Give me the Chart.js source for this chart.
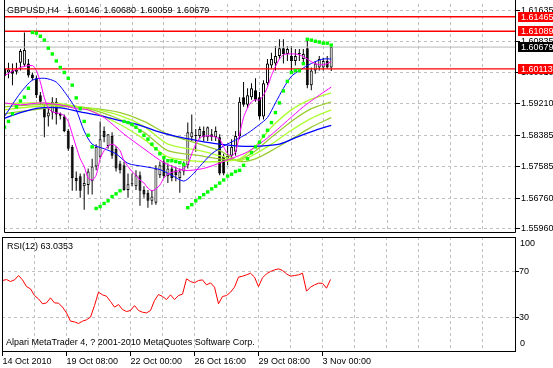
<!DOCTYPE html>
<html>
<head>
<meta charset="utf-8">
<title>GBPUSD,H4</title>
<script src="https://cdn.jsdelivr.net/npm/chart.js@4.4.1/dist/chart.umd.min.js"></script>
<style>
  html, body { margin: 0; padding: 0; background: #fff; }
  #wrap { position: relative; width: 553px; height: 368px; overflow: hidden; }
  #wrap canvas { position: absolute; left: 0; }
  .txt { position: absolute; font: 9px "Liberation Sans", Arial, sans-serif; line-height: 11px; white-space: nowrap; color: #000; }
</style>
</head>
<body>
<div id="wrap">
  <canvas id="priceCanvas" width="553" height="237" style="top:0"></canvas>
  <canvas id="rsiCanvas" width="553" height="131" style="top:237px"></canvas>
  <div class="txt" id="title" style="left:7px;top:5px;word-spacing:1.5px"></div>
  <div class="txt" id="rsiTitle" style="left:7px;top:241px"></div>
  <div class="txt" style="left:6px;top:337px">Alpari MetaTrader 4, ? 2001-2010 MetaQuotes Software Corp.</div>
</div>
<script>
// H4 candles, 14 Oct 2010 .. 3 Nov 2010 (one value per bar)
const openP = [1.6012,1.6002,1.6007,1.6004,1.6027,1.6022,1.6025,1.5997,1.5987,1.5943,
  1.5913,1.5888,1.5898,1.5926,1.5895,1.5888,1.5850,1.5809,1.5728,1.5733,
  1.5707,1.5710,1.5720,1.5758,1.5783,1.5850,1.5811,1.5837,1.5804,1.5766,
  1.5761,1.5697,1.5712,1.5707,1.5735,1.5697,1.5690,1.5669,1.5664,1.5735,
  1.5771,1.5733,1.5753,1.5748,1.5728,1.5745,1.5761,1.5834,1.5837,1.5837,
  1.5850,1.5834,1.5842,1.5834,1.5834,1.5783,1.5778,1.5786,1.5796,1.5837,
  1.5938,1.5918,1.5938,1.5956,1.5938,1.5888,1.5974,1.6020,1.6025,1.6045,
  1.6065,1.6050,1.6045,1.6032,1.6050,1.6037,1.6065,1.5969,1.6007,1.6015,
  1.6015,1.6032,1.60146];
const highP = [1.6027,1.6027,1.6025,1.6027,1.6063,1.6106,1.6037,1.6002,1.5994,1.5951,
  1.5918,1.5910,1.5938,1.5936,1.5898,1.5893,1.5855,1.5814,1.5745,1.5740,
  1.5740,1.5753,1.5778,1.5816,1.5875,1.5862,1.5842,1.5847,1.5811,1.5773,
  1.5771,1.5740,1.5740,1.5748,1.5745,1.5707,1.5697,1.5697,1.5761,1.5771,
  1.5778,1.5766,1.5761,1.5758,1.5753,1.5771,1.5872,1.5893,1.5855,1.5862,
  1.5862,1.5862,1.5855,1.5862,1.5842,1.5791,1.5811,1.5829,1.5850,1.5938,
  1.5977,1.5961,1.5974,1.5987,1.5951,1.5982,1.6037,1.6053,1.6071,1.6088,
  1.6088,1.6071,1.6071,1.6063,1.6063,1.6063,1.6088,1.6015,1.6032,1.6045,
  1.6040,1.6045,1.60680];
const lowP = [1.5971,1.5987,1.5969,1.5997,1.6007,1.6017,1.5989,1.5982,1.5936,1.5918,
  1.5834,1.5862,1.5880,1.5867,1.5880,1.5847,1.5799,1.5695,1.5695,1.5677,
  1.5646,1.5685,1.5685,1.5748,1.5778,1.5821,1.5804,1.5778,1.5745,1.5740,
  1.5695,1.5677,1.5707,1.5697,1.5656,1.5677,1.5651,1.5659,1.5659,1.5728,
  1.5728,1.5715,1.5720,1.5720,1.5690,1.5735,1.5753,1.5824,1.5796,1.5829,
  1.5824,1.5824,1.5824,1.5824,1.5735,1.5735,1.5761,1.5778,1.5786,1.5829,
  1.5913,1.5910,1.5931,1.5926,1.5880,1.5880,1.5969,1.6012,1.6007,1.6037,
  1.6025,1.6032,1.5999,1.6020,1.6032,1.6027,1.5961,1.5956,1.5999,1.6007,
  1.6007,1.6012,1.60059];
const closeP = [1.5992,1.6010,1.5999,1.6010,1.6058,1.6060,1.5994,1.5987,1.5943,1.5926,
  1.5885,1.5898,1.5926,1.5893,1.5890,1.5850,1.5804,1.5728,1.5720,1.5695,
  1.5715,1.5745,1.5758,1.5809,1.5829,1.5834,1.5842,1.5786,1.5753,1.5748,
  1.5697,1.5712,1.5712,1.5735,1.5695,1.5685,1.5669,1.5680,1.5753,1.5761,
  1.5733,1.5753,1.5728,1.5735,1.5745,1.5761,1.5847,1.5847,1.5837,1.5855,
  1.5834,1.5860,1.5834,1.5850,1.5740,1.5740,1.5786,1.5809,1.5837,1.5926,
  1.5918,1.5943,1.5961,1.5931,1.5888,1.5974,1.6025,1.6037,1.6045,1.6065,
  1.6050,1.6063,1.6032,1.6045,1.6050,1.6050,1.5969,1.6007,1.6025,1.6037,
  1.6032,1.6015,1.60679];

// parabolic SAR, one dot per bar
const sar = [1.5860,1.5875,1.5895,1.5913,1.5928,1.5938,1.5961,1.6106,1.6104,1.6096,
  1.6086,1.6065,1.6050,1.6032,1.6015,1.6002,1.5987,1.5969,1.5936,1.5908,
  1.5875,1.5839,1.5809,1.5649,1.5654,1.5662,1.5669,1.5680,1.5687,1.5695,
  1.5875,1.5872,1.5867,1.5860,1.5850,1.5839,1.5829,1.5816,1.5804,1.5791,
  1.5781,1.5773,1.5773,1.5771,1.5768,1.5763,1.5651,1.5659,1.5669,1.5677,
  1.5685,1.5692,1.5700,1.5707,1.5715,1.5723,1.5733,1.5738,1.5745,1.5748,
  1.5761,1.5778,1.5794,1.5809,1.5821,1.5837,1.5852,1.5872,1.5898,1.5923,
  1.5954,1.5979,1.6002,1.6007,1.6007,1.6025,1.6088,1.6086,1.6083,1.6081,
  1.6078,1.6078,1.6073];

// RSI(12), one value per bar
const rsi = [62.2,63.0,61.3,62.7,66.5,62.7,56.9,54.9,49.1,46.2,
  41.9,42.7,47.1,42.7,42.5,39.0,34.0,26.8,26.2,24.8,
  26.8,28.0,30.3,40.4,52.0,49.7,48.5,43.9,39.0,41.3,
  36.9,35.2,36.1,40.4,36.1,34.6,34.0,36.1,44.8,50.0,
  48.3,45.6,49.7,45.6,49.1,50.3,63.6,61.3,60.1,62.2,
  62.7,58.4,60.1,56.4,41.9,48.3,49.1,52.0,56.4,65.1,
  65.9,67.1,68.5,65.1,56.9,64.5,68.0,70.0,71.4,72.3,
  70.9,68.0,65.9,66.5,67.1,68.5,52.9,56.4,58.4,59.8,
  59.8,55.5,63.0353];

// moving averages: [bar, price]
const maMagentaFast = [[0,1.5994],[4,1.6015],[7,1.6020],[8,1.6007],[9,1.5977],[10,1.5936],[11,1.5910],[12,1.5900],
  [14,1.5895],[15,1.5890],[16,1.5875],[17,1.5842],[18,1.5809],[19,1.5778],[20,1.5758],[21,1.5728],[22,1.5723],
  [23,1.5735],[24,1.5778],[25,1.5799],[26,1.5811],[27,1.5816],[28,1.5811],[29,1.5799],[30,1.5773],[31,1.5758],
  [32,1.5745],[33,1.5735],[34,1.5723],[35,1.5715],[36,1.5702],[37,1.5695],[38,1.5700],[39,1.5710],[40,1.5728],
  [41,1.5738],[42,1.5743],[43,1.5745],[44,1.5748],[45,1.5753],[46,1.5763],[47,1.5791],[48,1.5816],[49,1.5832],
  [50,1.5837],[52,1.5837],[53,1.5834],[54,1.5829],[55,1.5809],[56,1.5791],[57,1.5786],[58,1.5796],[59,1.5842],
  [60,1.5885],[61,1.5910],[62,1.5926],[63,1.5931],[64,1.5931],[65,1.5943],[66,1.5964],[67,1.5994],[68,1.6017],
  [69,1.6037],[70,1.6048],[71,1.6050],[73,1.6050],[74,1.6048],[75,1.6043],[76,1.6037],[77,1.6030],[78,1.6025],
  [79,1.6022],[80,1.6022],[81,1.6025],[82,1.6030]];
const maMagentaSlow = [[0,1.5923],[4,1.5918],[9,1.5923],[14,1.5918],[18,1.5908],[21,1.5905],[25,1.5885],[30,1.5842],
  [35,1.5804],[40,1.5768],[45,1.5748],[50,1.5753],[55,1.5771],[61,1.5796],[66,1.5832],[71,1.5877],[75,1.5913],
  [79,1.5943],[82,1.5964]];
const maBlueFast = [[0,1.5888],[4,1.5949],[7,1.5982],[10,1.5987],[13,1.5977],[16,1.5938],[18,1.5905],[20,1.5850],
  [22,1.5816],[25,1.5804],[28,1.5791],[31,1.5766],[35,1.5758],[39,1.5750],[42,1.5735],[45,1.5720],[47,1.5735],
  [49,1.5758],[52,1.5791],[55,1.5811],[58,1.5827],[61,1.5844],[64,1.5867],[66,1.5885],[68,1.5923],[70,1.5961],
  [72,1.5992],[74,1.6007],[76,1.6020],[78,1.6030],[80,1.6037],[82,1.6037]];
const maBlueSlow = [[0,1.5883],[4,1.5898],[9,1.5910],[14,1.5910],[19,1.5900],[24,1.5890],[29,1.5877],[34,1.5865],
  [39,1.5847],[44,1.5834],[49,1.5824],[54,1.5816],[59,1.5811],[64,1.5811],[69,1.5816],[74,1.5837],[78,1.5852],
  [82,1.5865]];
const greenBars = [0,7,14,21,29,35,41,49,54,59,63,67,72,77,82];
const green1 = [1.5921,1.5923,1.5921,1.5905,1.5867,1.5829,1.5783,1.5771,1.5771,1.5778,1.5811,1.5860,1.5905,1.5933,1.5949];
const green2 = [1.5913,1.5918,1.5918,1.5908,1.5880,1.5847,1.5799,1.5786,1.5778,1.5776,1.5799,1.5834,1.5875,1.5908,1.5926];
const green3 = [1.5905,1.5913,1.5916,1.5910,1.5890,1.5862,1.5816,1.5799,1.5786,1.5773,1.5791,1.5816,1.5852,1.5883,1.5905];
const green4 = [1.5895,1.5905,1.5913,1.5910,1.5898,1.5875,1.5842,1.5816,1.5799,1.5771,1.5778,1.5799,1.5829,1.5860,1.5885];

// horizontal levels and axis ticks
const redLevels = [1.61465, 1.61089, 1.60113];
const bidPrice = 1.60679;
const priceTicks = [1.55960, 1.56760, 1.57585, 1.58385, 1.59210, 1.60010, 1.60835, 1.61635];
const rsiTicks = [30, 70];
const gridBars = [8,16,24,32,40,48,56,64,72,80,88,96,104,112,120];
const labelBars = [0,16,32,48,64,80];
const timeLabels = ['14 Oct 2010','19 Oct 08:00','22 Oct 00:00','26 Oct 16:00','29 Oct 08:00','3 Nov 00:00'];

const xMin = -0.125, xMax = 128.375;
const bars = openP.map((_, i) => i);

document.getElementById('title').textContent =
  'GBPUSD,H4\u00a0 ' + [openP[82], highP[82], lowP[82], closeP[82]].map(v => v.toFixed(5)).join(' ');
document.getElementById('rsiTitle').textContent = 'RSI(12) ' + rsi[82].toFixed(4);

Chart.defaults.font.family = '"Liberation Sans", Arial, sans-serif';
Chart.defaults.font.size = 9;
Chart.defaults.color = '#000';

function noPad(s) { s.paddingLeft = 0; s.paddingRight = 0; s.paddingTop = 0; s.paddingBottom = 0; }
const pts = arr => arr.map(p => ({x: p[0], y: p[1]}));

// black frame round the plot area
const chartFrame = {
  id: 'chartFrame',
  afterDraw(chart, args, opts) {
    const {ctx, chartArea: a} = chart;
    const l = a.left + 0.5, r = a.right - 0.5, t = a.top + 0.5, b = a.bottom - 0.5;
    ctx.save();
    ctx.strokeStyle = '#000';
    ctx.lineWidth = 1;
    if (opts.closed) {
      ctx.strokeRect(l, t, r - l, b - t);
    } else {
      ctx.beginPath();
      ctx.moveTo(l, 0); ctx.lineTo(l, b); ctx.lineTo(r, b); ctx.lineTo(r, 0);
      ctx.stroke();
    }
    ctx.restore();
  }
};

// coloured price boxes on the right axis
const priceTags = {
  id: 'priceTags',
  afterDraw(chart) {
    const {ctx, scales: {y}} = chart;
    const tags = redLevels.map(v => [v, '#ff0000']).concat([[bidPrice, '#000000']]);
    ctx.save();
    ctx.font = '9px "Liberation Sans", Arial, sans-serif';
    ctx.textBaseline = 'middle';
    tags.forEach(([v, c]) => {
      const py = Math.round(y.getPixelForValue(v));
      ctx.fillStyle = c;
      ctx.fillRect(y.left + 2, py - 5, chart.width - y.left - 2, 10);
      ctx.fillStyle = '#fff';
      ctx.fillText(v.toFixed(5), y.left + 5, py + 0.5);
    });
    ctx.restore();
  }
};

// 100 and 0 sit just inside the RSI window
const rsiEndLabels = {
  id: 'rsiEndLabels',
  afterDraw(chart) {
    const {ctx, scales: {y}} = chart;
    ctx.save();
    ctx.font = '9px "Liberation Sans", Arial, sans-serif';
    ctx.fillStyle = '#000';
    ctx.textBaseline = 'middle';
    ctx.fillText('100', y.left + 4, y.getPixelForValue(100) + 7);
    ctx.fillText('0', y.left + 4, y.getPixelForValue(0) - 8);
    ctx.restore();
  }
};

const lineStyle = (data, color, width, order) => ({
  type: 'line', data: data, borderColor: color, borderWidth: width,
  pointRadius: 0, tension: 0.25, fill: false, order: order
});

new Chart(document.getElementById('priceCanvas'), {
  type: 'line',
  data: {
    datasets: [
      {
        type: 'line', data: bars.map(i => ({x: i, y: sar[i]})), showLine: false,
        pointStyle: 'rect', pointRadius: 2.4, pointBackgroundColor: '#00ff00', pointBorderWidth: 0, order: 1
      },
      ...redLevels.map(v => lineStyle([{x: xMin, y: v}, {x: xMax, y: v}], '#ff0000', 1.4, 2)),
      lineStyle([{x: xMin, y: bidPrice}, {x: xMax, y: bidPrice}], '#b8b8b8', 1, 2),
      lineStyle(pts(maMagentaFast), '#ff00ff', 1, 3),
      lineStyle(pts(maMagentaSlow), '#ff00ff', 1, 3),
      lineStyle(pts(maBlueFast), '#0000ff', 1, 3),
      lineStyle(pts(maBlueSlow), '#0000ff', 1.3, 3),
      lineStyle(greenBars.map((b, k) => ({x: b, y: green1[k]})), '#adff2f', 1.3, 4),
      lineStyle(greenBars.map((b, k) => ({x: b, y: green2[k]})), '#9acd32', 1.3, 4),
      lineStyle(greenBars.map((b, k) => ({x: b, y: green3[k]})), '#adff2f', 1.3, 4),
      lineStyle(greenBars.map((b, k) => ({x: b, y: green4[k]})), '#9acd32', 1.3, 4),
      {
        type: 'bar', data: bars.map(i => ({x: i, y: [openP[i], closeP[i]]})),
        backgroundColor: bars.map(i => closeP[i] >= openP[i] ? '#ffffff' : '#000000'),
        borderColor: '#000', borderWidth: 1, borderSkipped: false, inflateAmount: 0,
        barThickness: 3, minBarLength: 1, grouped: false, order: 5
      },
      {
        type: 'bar', data: bars.map(i => ({x: i, y: [lowP[i], highP[i]]})),
        backgroundColor: '#000', borderWidth: 0, inflateAmount: 0,
        barThickness: 1, grouped: false, order: 6
      }
    ]
  },
  options: {
    responsive: false, animation: false, devicePixelRatio: 1,
    layout: { padding: { left: 2, top: 2, right: 0, bottom: 0 } },
    plugins: { legend: { display: false }, tooltip: { enabled: false }, chartFrame: { closed: false } },
    scales: {
      x: {
        type: 'linear', min: xMin, max: xMax, offset: false, bounds: 'data',
        afterBuildTicks: s => { s.ticks = gridBars.map(v => ({value: v})); },
        afterFit: s => { s.height = 1; noPad(s); },
        ticks: { display: false },
        grid: { color: '#c0c0c0', drawTicks: false, offset: false },
        border: { display: false, dash: [3, 3] }
      },
      y: {
        type: 'linear', position: 'right', min: 1.55854, max: 1.61797, bounds: 'data',
        afterBuildTicks: s => { s.ticks = priceTicks.map(v => ({value: v})); },
        afterFit: s => { s.width = 37; noPad(s); },
        ticks: { padding: 1, callback: v => v.toFixed(5) },
        grid: { color: '#c0c0c0', tickLength: 4, tickColor: '#000' },
        border: { display: false, dash: [3, 3] }
      }
    }
  },
  plugins: [chartFrame, priceTags]
});

new Chart(document.getElementById('rsiCanvas'), {
  type: 'line',
  data: {
    datasets: [{
      data: bars.map(i => ({x: i, y: rsi[i]})), borderColor: '#ff0000', borderWidth: 1,
      pointRadius: 0, tension: 0, fill: false
    }]
  },
  options: {
    responsive: false, animation: false, devicePixelRatio: 1,
    layout: { padding: { left: 2, top: 0, right: 0, bottom: 0 } },
    plugins: { legend: { display: false }, tooltip: { enabled: false }, chartFrame: { closed: true } },
    scales: {
      x: {
        type: 'linear', min: xMin, max: xMax, offset: false, bounds: 'data',
        afterBuildTicks: s => { s.ticks = [0].concat(gridBars).map(v => ({value: v})); },
        afterFit: s => { s.height = 16; noPad(s); },
        ticks: {
          align: 'start', maxRotation: 0, minRotation: 0, autoSkip: false, padding: 0,
          callback: v => { const k = labelBars.indexOf(v); return k < 0 ? '' : timeLabels[k]; }
        },
        grid: {
          color: c => (c.tick && c.tick.value > 0) ? '#c0c0c0' : 'rgba(0,0,0,0)',
          tickLength: 4,
          tickColor: c => (c.tick && labelBars.includes(c.tick.value)) ? '#000' : 'rgba(0,0,0,0)',
          offset: false
        },
        border: { display: false, dash: [3, 3] }
      },
      y: {
        type: 'linear', position: 'right', min: 0, max: 100, bounds: 'data',
        afterBuildTicks: s => { s.ticks = rsiTicks.map(v => ({value: v})); },
        afterFit: s => { s.width = 37; noPad(s); },
        ticks: { padding: 0 },
        grid: { color: '#c0c0c0', tickLength: 3, tickColor: '#000' },
        border: { display: false, dash: [3, 3] }
      }
    }
  },
  plugins: [chartFrame, rsiEndLabels]
});
</script>
</body>
</html>
